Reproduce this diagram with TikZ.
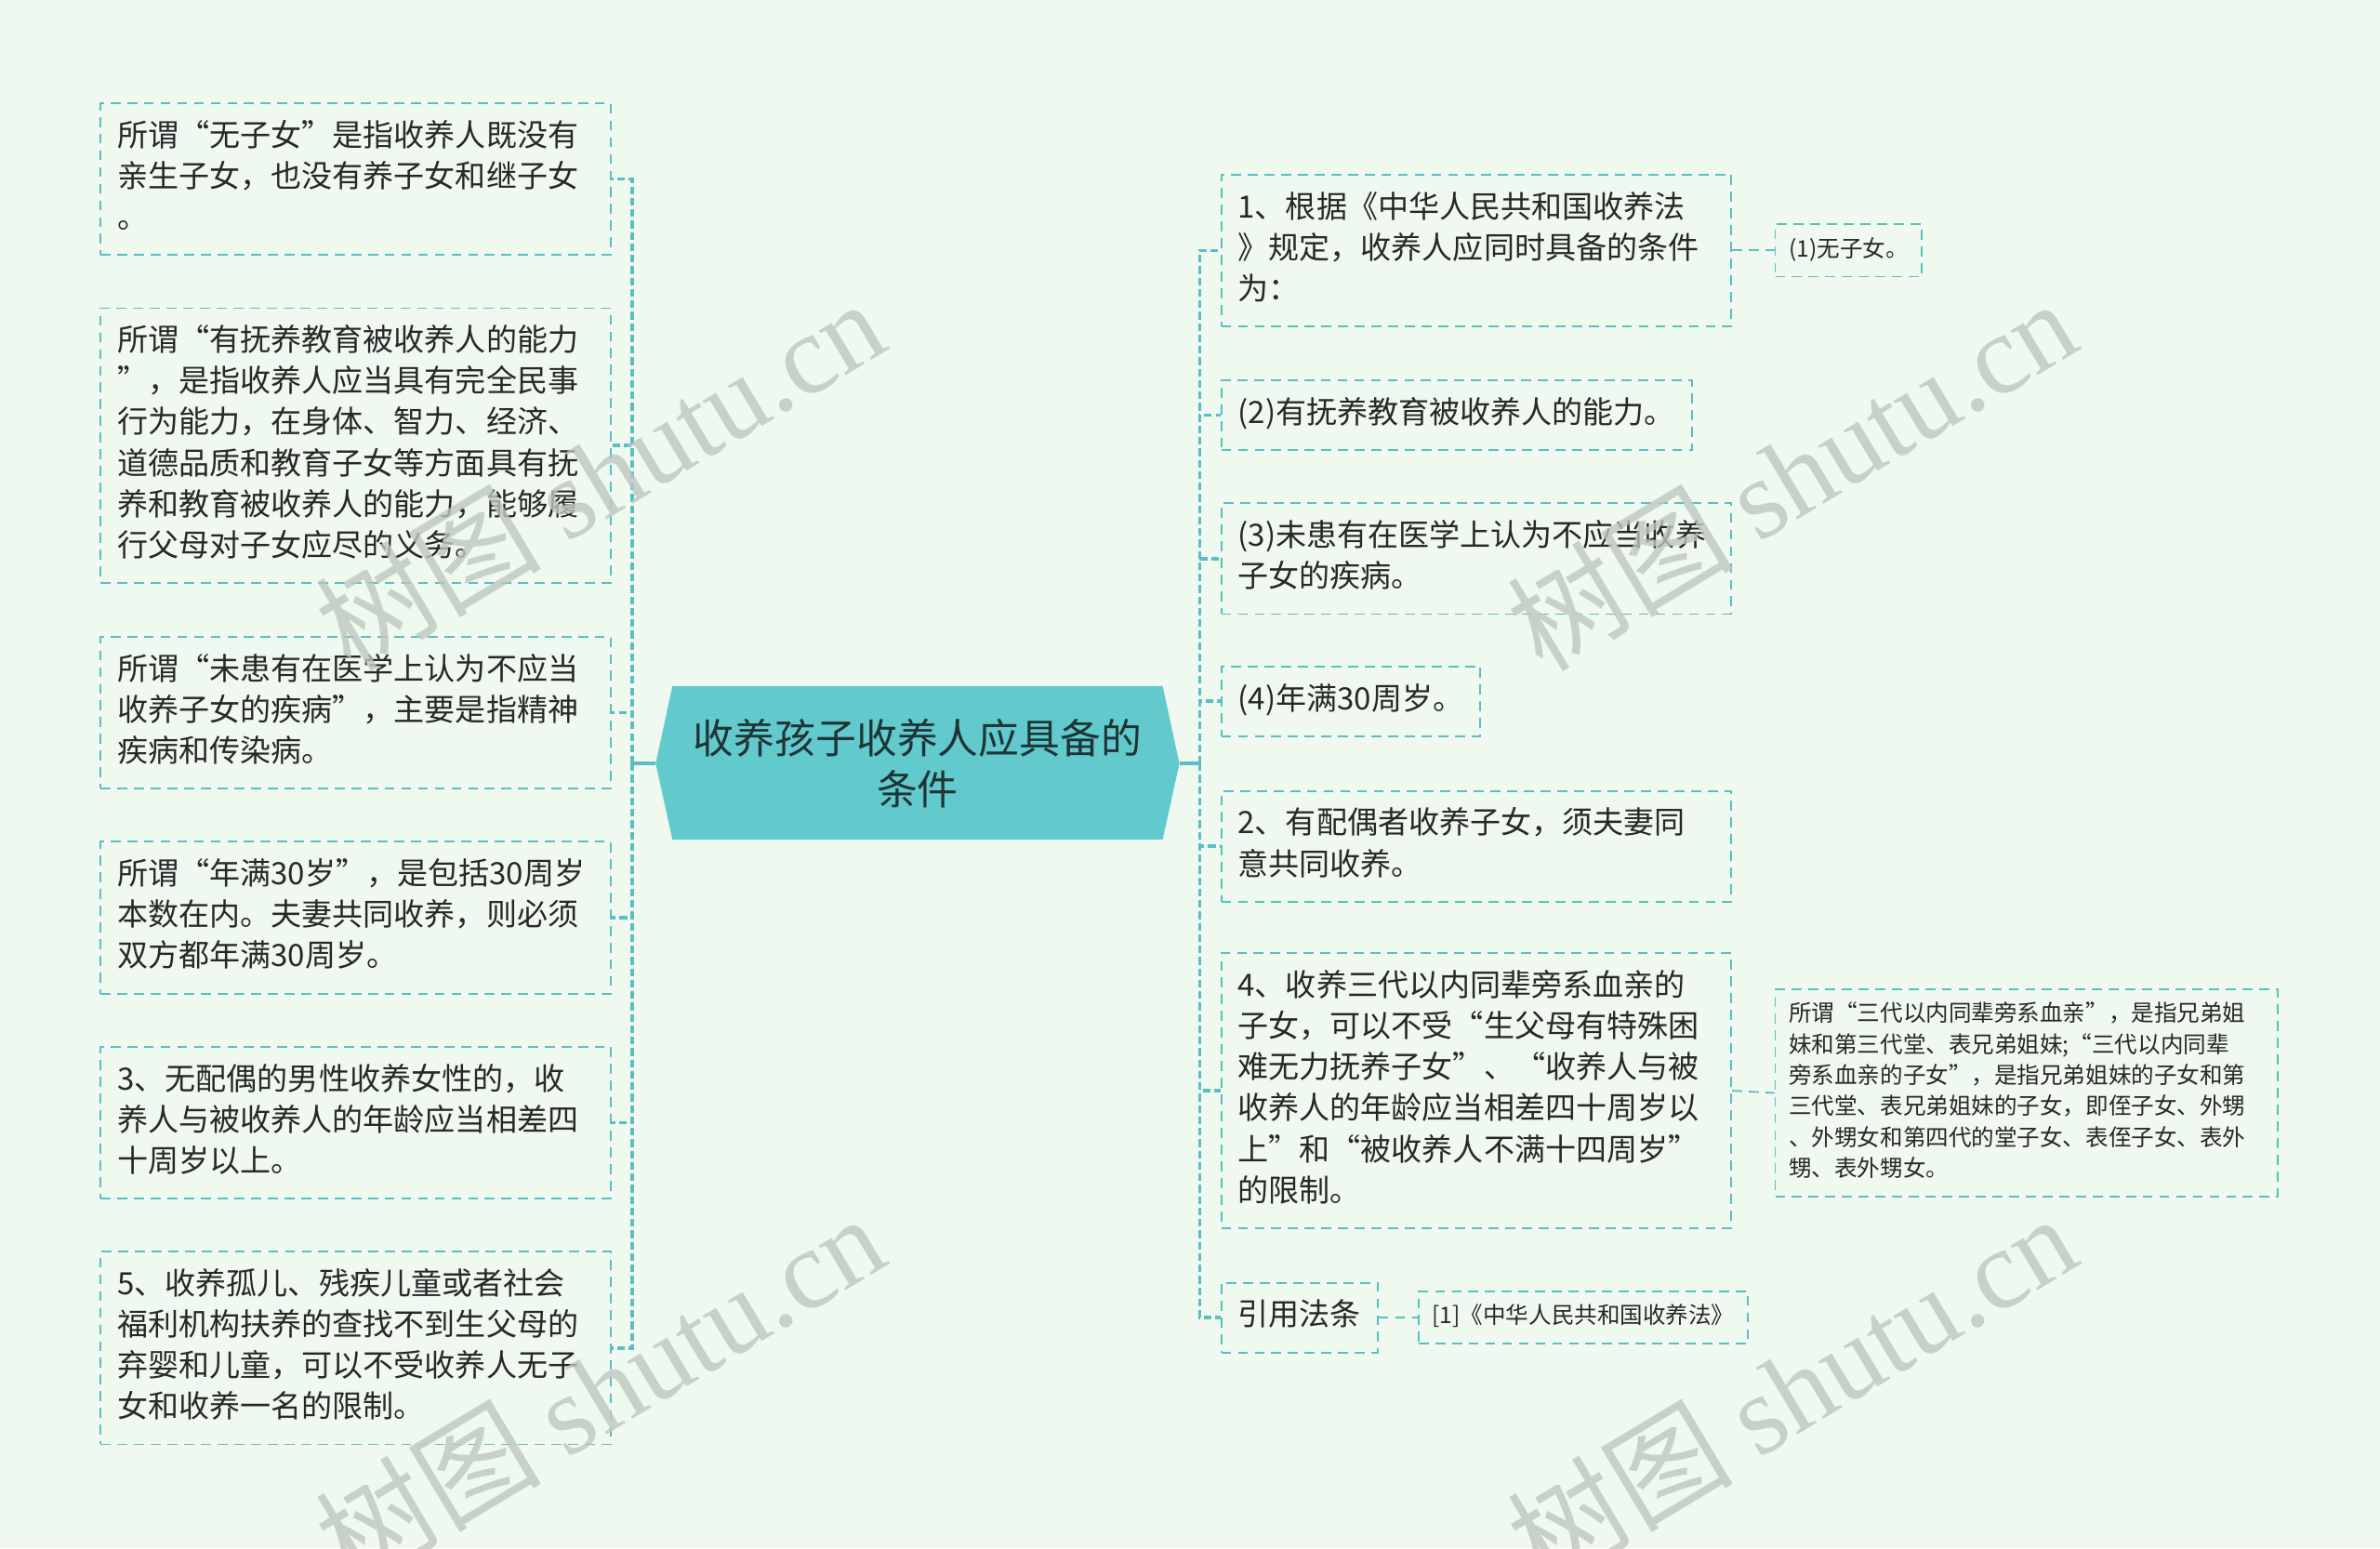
\documentclass[tikz,border=0pt]{standalone}
\usepackage{fontspec}
\setmainfont{Noto Sans CJK SC}
\newfontfamily\wmfont{Liberation Serif}

\definecolor{bgc}{RGB}{239,249,240}
\definecolor{linec}{RGB}{91,190,196}
\definecolor{rootc}{RGB}{98,201,204}
\definecolor{rootdark}{RGB}{30,52,54}
\definecolor{txtc}{RGB}{40,40,40}
\definecolor{wmc}{RGB}{190,198,192}

\tikzset{
  leaf/.style={draw=linec, line width=0.8pt, dash pattern=on 0.165cm off 0.11cm,
    text=txtc, align=left, inner xsep=0.275cm, inner ysep=0.2375cm,
    font=\fontsize{14.4pt}{19.2pt}\selectfont,
    execute at begin node=\strut, execute at end node=\strut},
  wide/.style={leaf, text width=7.85cm},
  note/.style={leaf, inner xsep=0.225cm, inner ysep=0.175cm,
    font=\fontsize{10.7pt}{14.5pt}\selectfont},
  root/.style={inner sep=0pt, minimum width=8.625cm, minimum height=2.525cm,
    align=center, text=rootdark, font=\fontsize{19.1pt}{24.2pt}\selectfont},
  stem/.style={draw=linec, line width=1.6pt},
  trunk/.style={draw=linec, line width=1.6pt, dash pattern=on 0.125cm off 0.0625cm},
  twig/.style={draw=linec, line width=0.8pt, dash pattern=on 0.165cm off 0.11cm},
  wmark/.style={text=wmc, opacity=0.8, rotate=31, font=\fontsize{53pt}{53pt}\selectfont}
}

\begin{document}
\begin{tikzpicture}[x=0.025cm, y=-0.025cm]
% Background
\fill [bgc] (0,0) rectangle (1568,1020);
\useasboundingbox (0,0) rectangle (1568,1020);
% Root shape
\fill [rootc] (432,503) -- (443,452) -- (766,452) -- (777,503) -- (766,553) -- (443,553) -- cycle;
% Root
\node [root] (root) at (604.5,503) {收养孩子收养人应具备的\\条件};
% Left side
\node [wide, anchor=east] (l1) at (403,118) {所谓“无子女”是指收养人既没有\\亲生子女，也没有养子女和继子女\\。};
\node [wide, anchor=east] (l2) at (403,293.5) {所谓“有抚养教育被收养人的能力\\”，是指收养人应当具有完全民事\\行为能力，在身体、智力、经济、\\道德品质和教育子女等方面具有抚\\养和教育被收养人的能力，能够履\\行父母对子女应尽的义务。};
\node [wide, anchor=east] (l3) at (403,469.5) {所谓“未患有在医学上认为不应当\\收养子女的疾病”，主要是指精神\\疾病和传染病。};
\node [wide, anchor=east] (l4) at (403,604.5) {所谓“年满30岁”，是包括30周岁\\本数在内。夫妻共同收养，则必须\\双方都年满30周岁。};
\node [wide, anchor=east] (l5) at (403,739.5) {3、无配偶的男性收养女性的，收\\养人与被收养人的年龄应当相差四\\十周岁以上。};
\node [wide, anchor=east] (l6) at (403,888) {5、收养孤儿、残疾儿童或者社会\\福利机构扶养的查找不到生父母的\\弃婴和儿童，可以不受收养人无子\\女和收养一名的限制。};
% Right side
\node [wide, anchor=west] (r1) at (804,165) {1、根据《中华人民共和国收养法\\》规定，收养人应同时具备的条件\\为：};
\node [leaf, anchor=west] (r2) at (804,273.5) {(2)有抚养教育被收养人的能力。};
\node [wide, anchor=west] (r3) at (804,368) {(3)未患有在医学上认为不应当收养\\子女的疾病。};
\node [leaf, anchor=west] (r4) at (804,462) {(4)年满30周岁。};
\node [wide, anchor=west] (r5) at (804,557.5) {2、有配偶者收养子女，须夫妻同\\意共同收养。};
\node [wide, anchor=west] (r6) at (804,718.5) {4、收养三代以内同辈旁系血亲的\\子女，可以不受“生父母有特殊困\\难无力抚养子女”、“收养人与被\\收养人的年龄应当相差四十周岁以\\上”和“被收养人不满十四周岁”\\的限制。};
\node [leaf, anchor=west] (r7) at (804,868) {引用法条};
% Notes
\node [note, anchor=west] (r1n) at (1169,165) {(1)无子女。};
\node [note, anchor=west, text width=7.825cm] (r6n) at (1169,720) {所谓“三代以内同辈旁系血亲”，是指兄弟姐\\妹和第三代堂、表兄弟姐妹;“三代以内同辈\\旁系血亲的子女”，是指兄弟姐妹的子女和第\\三代堂、表兄弟姐妹的子女，即侄子女、外甥\\、外甥女和第四代的堂子女、表侄子女、表外\\甥、表外甥女。};
\node [note, anchor=west] (r7n) at (934,868) {[1]《中华人民共和国收养法》};
% root -- left trunk
\draw [stem] (root.west) -- ++(-15,0) coordinate (lj);
\foreach \n in {l1,l2,l3,l4,l5,l6}
  \draw [trunk] (lj) |- (\n.east);
% root -- right trunk
\draw [stem] (root.east) -- ++(13,0) coordinate (rj);
\foreach \n in {r1,r2,r3,r4,r5,r6,r7}
  \draw [trunk] (rj) |- (\n.west);
% Notes
\draw [twig] (r1.east) -- (r1n.west);
\draw [twig] (r6.east) -- (r6n.west);
\draw [twig] (r7.east) -- (r7n.west);
% Watermark
\node [wmark] (w1) at (395,312) {树图 {\wmfont shutu.cn}};
\node [wmark] (w2) at (1180,312) {树图 {\wmfont shutu.cn}};
\node [wmark] (w3) at (395,915) {树图 {\wmfont shutu.cn}};
\node [wmark] (w4) at (1180,915) {树图 {\wmfont shutu.cn}};
\end{tikzpicture}
\end{document}
